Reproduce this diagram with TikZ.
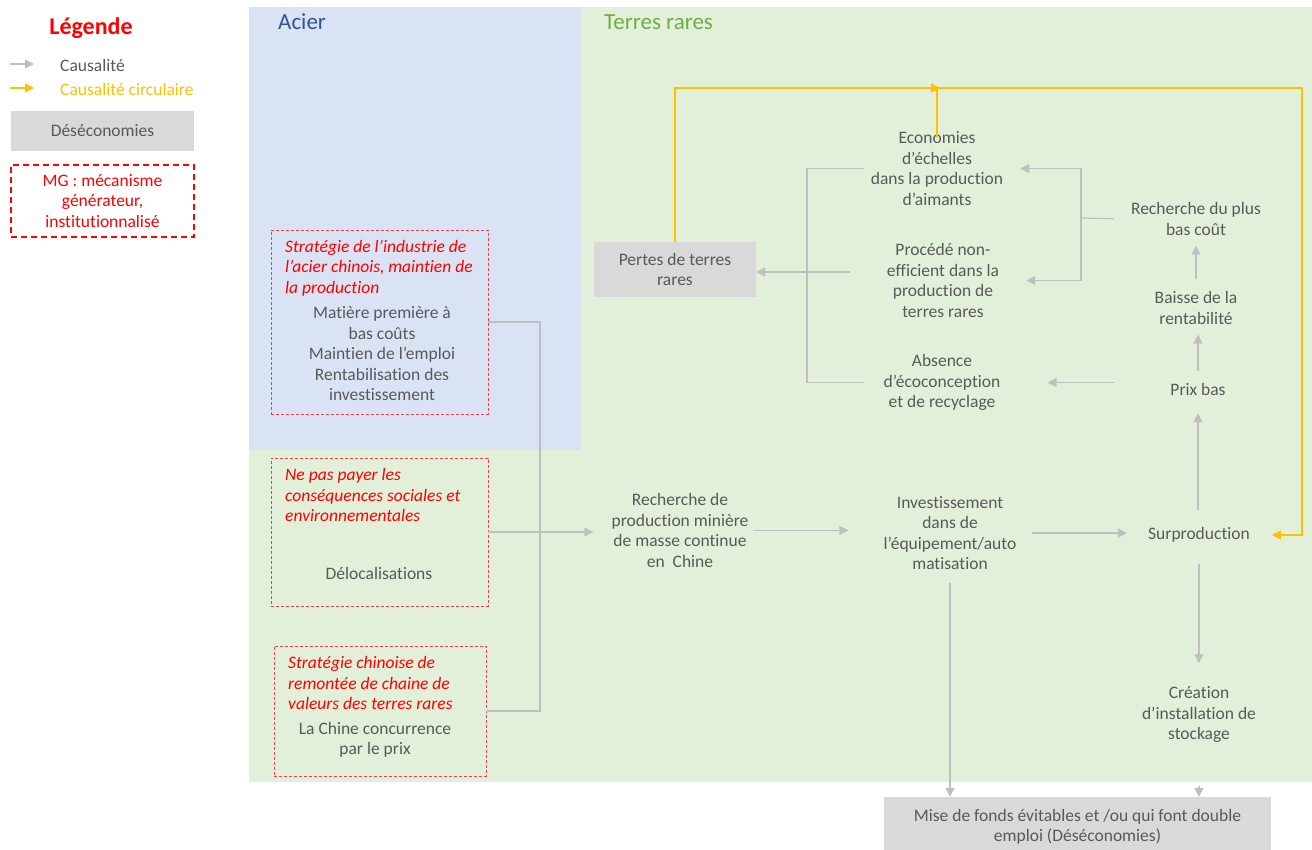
\documentclass[tikz,border=0pt]{standalone}
\usepackage{fontspec}
\setmainfont{Carlito}[Ligatures=NoCommon]
\usetikzlibrary{arrows.meta}
\definecolor{tgray}{HTML}{595959}
\definecolor{agray}{HTML}{BFBFBF}
\definecolor{orng}{HTML}{FFC000}
\definecolor{bbg}{HTML}{DAE3F3}
\definecolor{gbg}{HTML}{E2F0D9}
\definecolor{boxg}{HTML}{D9D9D9}
\definecolor{mgred}{HTML}{FF0000}
\definecolor{dred}{HTML}{F0404F}
\definecolor{tblue}{HTML}{2F5597}
\definecolor{tgreen}{HTML}{70AD47}
\begin{document}
\begin{tikzpicture}[x=1pt,y=-1pt,
  txt/.style={font=\fontsize{17.5}{20.5}\selectfont, text=tgray, align=center, inner sep=0pt},
  redit/.style={font=\fontsize{17.5}{20.5}\selectfont\itshape, text=mgred, align=left, inner sep=0pt, anchor=west},
  ga/.style={draw=agray, line width=1.2pt, -{Triangle[width=9pt,length=9pt]}},
  gl/.style={draw=agray, line width=1.2pt},
  oa/.style={draw=orng, line width=1.2pt, -{Triangle[width=9pt,length=9pt]}},
  mgbox/.style={draw=dred, line width=0.9pt, dash pattern=on 3pt off 2pt, inner sep=0pt},
  greybox/.style={txt, fill=boxg},
  title/.style={font=\fontsize{23}{26}\selectfont, anchor=west, inner sep=0pt},
]
\path[use as bounding box, clip] (0,0) rectangle (1312,849);
% backgrounds
\fill[gbg] (249,7) rectangle (1312,782);
\fill[bbg] (249,7) rectangle (581,450);
\node[title, text=tblue] (tacier) at (278,22) {Acier};
\node[title, text=tgreen] (tterres) at (604,22) {Terres rares};

% legend
\node[font=\fontsize{24}{28}\selectfont\bfseries, text=mgred, inner sep=0pt] (leg) at (91,28) {Légende};
\coordinate (l1a) at (10,64); \coordinate (l1b) at (34,64);
\draw[ga] (l1a) -- (l1b);
\node[txt, anchor=west] (lcaus) at (60,65) {Causalité};
\coordinate (l2a) at (10,88); \coordinate (l2b) at (34,88);
\draw[oa] (l2a) -- (l2b);
\node[txt, anchor=west, text=orng] (lcirc) at (60,89) {Causalité circulaire};
\node[greybox, minimum width=183pt, minimum height=40pt] (ldes) at (102.5,131) {Déséconomies};
\node[txt, text=mgred, draw=mgred, line width=1.8pt, dash pattern=on 6pt off 4pt, minimum width=183pt, minimum height=72pt] (lmg) at (102.5,201) {MG : mécanisme\\générateur,\\institutionnalisé};

% left MG boxes
\node[mgbox, minimum width=217pt, minimum height=184pt] (mg1) at (379.5,322) {};
\node[redit] (mg1t) at (285,268) {Stratégie de l’industrie de\\l’acier chinois, maintien de\\la production};
\node[txt] (mg1g) at (382,354) {Matière première à\\bas coûts\\Maintien de l’emploi\\Rentabilisation des\\investissement};

\node[mgbox, minimum width=217pt, minimum height=148pt] (mg2) at (379.5,532) {};
\node[redit] (mg2t) at (285,495) {Ne pas payer les\\conséquences sociales et\\environnementales};
\node[txt] (mg2g) at (379,573) {Délocalisations};

\node[mgbox, minimum width=212pt, minimum height=130pt] (mg3) at (380,711) {};
\node[redit] (mg3t) at (288,683) {Stratégie chinoise de\\remontée de chaine de\\valeurs des terres rares};
\node[txt] (mg3g) at (375,740) {La Chine concurrence\\par le prix};

% grey boxes
\node[greybox, minimum width=162pt, minimum height=55pt] (pertes) at (675,269.5) {Pertes de terres\\rares};
\node[greybox, minimum width=387pt, minimum height=60pt] (mise) at (1077.5,827) {Mise de fonds évitables et /ou qui font double\\emploi (Déséconomies)};

% text nodes
\node[txt] (eco) at (937,168.5) {Economies\\d’échelles\\dans la production\\d’aimants};
\node[txt] (proc) at (943,280.5) {Procédé non-\\efficient dans la\\production de\\terres rares};
\node[txt] (abs) at (942,382.5) {Absence\\d’écoconception\\et de recyclage};
\node[txt] (rcout) at (1196,219) {Recherche du plus\\bas coût};
\node[txt] (baisse) at (1196,308) {Baisse de la\\rentabilité};
\node[txt] (prix) at (1198,389) {Prix bas};
\node[txt] (surp) at (1199,535) {Surproduction};
\node[txt] (crea) at (1199,714.5) {Création\\d’installation de\\stockage};
\node[txt] (inv) at (950,533) {Investissement\\dans de\\l’équipement/auto\\matisation};
\node[txt] (rech) at (680,530.5) {Recherche de\\production minière\\de masse continue\\en\ \ Chine};

% coordinates
\coordinate (jn) at (540,532);
\coordinate (bx) at (1081,218);
\coordinate (bl) at (807,272);
\coordinate (ytop) at (1302,88);

% left connectors
\draw[gl] (mg1.east) -| (jn);
\draw[gl] (mg3.east) -| (jn);
\draw[ga, shorten >=18pt] (mg2.east) -- (mg2.east -| rech.west);

% main chain
\draw[ga, shorten <=4pt, shorten >=35pt] (rech.east) -- (rech.east -| inv.west);
\draw[ga, shorten <=15pt, shorten >=21pt] (inv.east) -- (inv.east -| surp.west);
\draw[ga, shorten <=13pt] (inv.south) -- (inv.south |- mise.north);
\draw[ga, shorten <=21pt, shorten >=23pt] (surp.south) -- (surp.south |- crea.north);
\draw[ga, shorten <=43pt] (crea.south) -- (crea.south |- mise.north);
\draw[ga, shorten <=17pt, shorten >=18pt] (prix.south |- surp.north) -- (prix.south);
\draw[ga, shorten <=12pt, shorten >=10pt] (prix.north) -- (prix.north |- baisse.south);
\draw[ga, shorten <=12pt, shorten >=10pt] (baisse.north) -- (baisse.north |- rcout.south);
\draw[ga, shorten <=56pt, shorten >=47pt] (abs.east -| prix.west) -- (abs.east);

% top grey connectors
\draw[gl, shorten <=17pt] (rcout.west) -- (bx);
\draw[ga, shorten >=17pt] (bx) |- (eco.east);
\draw[ga, shorten >=27pt] (bx) |- (proc.east);
\draw[gl, shorten <=7pt] (eco.west) -| (bl);
\draw[gl, shorten <=19pt] (abs.west) -| (bl);
\draw[ga, shorten <=37pt] (bl -| proc.west) -- (bl -| pertes.east);

% circular (orange)
\draw[oa, shorten <=-6pt, shorten >=22pt] (eco.north) |- (ytop) |- (surp.east);
\draw[oa, shorten >=-3pt] (pertes.north) |- (eco.north |- ytop);
\end{tikzpicture}
\end{document}
